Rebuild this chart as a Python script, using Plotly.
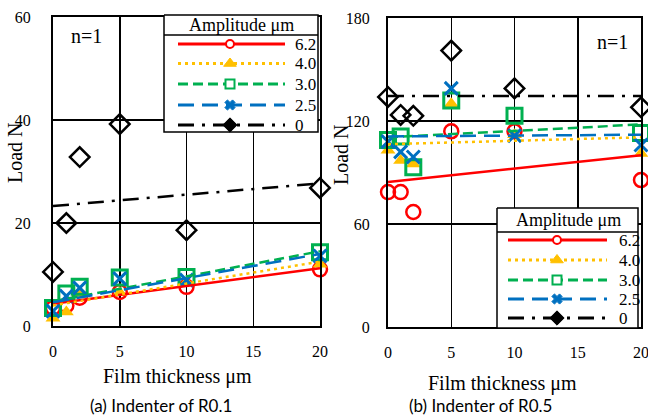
import plotly.graph_objects as go

# ---------------- data ----------------
thickness = [0, 1, 2, 5, 10, 20]
trend_x = [0, 20]
amplitudes = ["6.2", "4.0", "3.0", "2.5", "0"]

# (a) Indenter of R0.1
load_a_62 = [3.5, 4.0, 5.5, 6.6, 7.6, 11.0]
load_a_40 = [1.5, 2.7, 6.0, 6.5, 8.5, 12.0]
load_a_30 = [3.5, 6.3, 7.6, 9.4, 9.5, 14.3]
load_a_25 = [2.9, 5.8, 7.4, 9.2, 8.9, 13.6]
load_a_0 = [10.5, 20.0, 32.8, 39.2, 18.6, 26.8]
trend_a_62 = [4.3, 11.2]
trend_a_40 = [4.0, 12.5]
trend_a_30 = [4.8, 14.5]
trend_a_25 = [4.6, 14.0]
trend_a_0 = [23.3, 27.7]

# (b) Indenter of R0.5
load_b_62 = [78.6, 78.6, 67.0, 114.0, 114.0, 85.6]
load_b_40 = [103.0, 97.0, 95.0, 130.0, 112.0, 101.0]
load_b_30 = [109.0, 111.0, 93.0, 132.0, 123.0, 113.0]
load_b_25 = [108.0, 102.0, 99.0, 139.0, 111.5, 106.0]
load_b_0 = [134.0, 123.5, 123.0, 161.0, 139.0, 128.0]
trend_b_62 = [84.5, 100.0]
trend_b_40 = [106.5, 110.5]
trend_b_30 = [110.5, 118.0]
trend_b_25 = [111.0, 112.0]
trend_b_0 = [134.5, 134.5]

# ---------------- styles ----------------
W, H = 648, 420
SERIF = "Liberation Serif, Times New Roman, serif"
colors = ["#FF0000", "#FFC000", "#00B050", "#0070C0", "#000000"]
dashes = ["solid", "3px,4px", "10px,5px", "16px,8px", "16px,8px,3px,8px"]
symbols = ["circle-open", "triangle-up", "square-open", "x-thin-open", "diamond-open"]
msizes = [14, 13, 15, 13, 15]
mlw = [2.5, 0, 3, 3, 2.5]
leg_symbols = ["circle", "triangle-up", "square", "x", "diamond"]
leg_sizes = [8, 11, 9, 9, 11]
leg_fill = ["white", "#FFC000", "white", "#0070C0", "#000000"]

fig = go.Figure()

panels = [
    ("x", "y", [load_a_62, load_a_40, load_a_30, load_a_25, load_a_0],
     [trend_a_62, trend_a_40, trend_a_30, trend_a_25, trend_a_0]),
    ("x2", "y2", [load_b_62, load_b_40, load_b_30, load_b_25, load_b_0],
     [trend_b_62, trend_b_40, trend_b_30, trend_b_25, trend_b_0]),
]

for xa, ya, series, trends in panels:
    for i, vals in enumerate(series):
        fig.add_trace(go.Scatter(
            x=thickness, y=vals, mode="markers", xaxis=xa, yaxis=ya,
            cliponaxis=False, showlegend=False,
            marker=dict(symbol=symbols[i], size=msizes[i], color=colors[i],
                        line=dict(color=colors[i], width=mlw[i]))))
    for i, tr in enumerate(trends):
        fig.add_trace(go.Scatter(
            x=trend_x, y=tr, mode="lines", xaxis=xa, yaxis=ya,
            cliponaxis=False, showlegend=False,
            line=dict(color=colors[i], width=2.5, dash=dashes[i])))

# ---------------- custom legends (pixel-space overlay axis) ----------------
legends = [
    dict(box=(164, 318, 15, 132), head=35, rows=[44, 63.5, 84, 105, 125],
         lx=(178, 285), mx=230, tx=293, hx=241),
    dict(box=(497, 638, 208, 328), head=232, rows=[240, 260, 280, 299, 318],
         lx=(508, 607), mx=557, tx=617, hx=568),
]
annotations = []
for L in legends:
    x0, x1, y0, y1 = L["box"]
    fig.add_trace(go.Scatter(
        x=[x0, x1, x1, x0, x0], y=[y0, y0, y1, y1, y0], mode="lines",
        fill="toself", fillcolor="white", line=dict(color="black", width=1.5),
        xaxis="x3", yaxis="y3", showlegend=False, hoverinfo="skip"))
    fig.add_trace(go.Scatter(
        x=[x0, x1], y=[L["head"], L["head"]], mode="lines",
        line=dict(color="black", width=1.5),
        xaxis="x3", yaxis="y3", showlegend=False, hoverinfo="skip"))
    annotations.append(dict(x=L["hx"], y=(y0 + L["head"]) / 2, xref="x3", yref="y3",
                            text="Amplitude μm", showarrow=False,
                            font=dict(family=SERIF, size=18, color="black"),
                            xanchor="center", yanchor="middle"))
    for i, ry in enumerate(L["rows"]):
        fig.add_trace(go.Scatter(
            x=list(L["lx"]), y=[ry, ry], mode="lines",
            line=dict(color=colors[i], width=3, dash=dashes[i]),
            xaxis="x3", yaxis="y3", showlegend=False, hoverinfo="skip"))
        fig.add_trace(go.Scatter(
            x=[L["mx"]], y=[ry], mode="markers",
            marker=dict(symbol=leg_symbols[i], size=leg_sizes[i], color=leg_fill[i],
                        line=dict(color=colors[i], width=2 if i in (0, 2) else 1)),
            xaxis="x3", yaxis="y3", showlegend=False, hoverinfo="skip"))
        annotations.append(dict(x=L["tx"], y=ry, xref="x3", yref="y3",
                                text=amplitudes[i], showarrow=False,
                                font=dict(family=SERIF, size=17, color="black"),
                                xanchor="left", yanchor="middle"))

# ---------------- text ----------------
def txt(x, y, s, size, family=SERIF, angle=0, xanchor="center"):
    annotations.append(dict(x=x, y=y, xref="x3", yref="y3", text=s, showarrow=False,
                            textangle=angle, font=dict(family=family, size=size, color="black"),
                            xanchor=xanchor, yanchor="middle"))

txt(86, 36, "n=1", 20)
txt(612, 42, "n=1", 20)
txt(15, 153, "Load N", 20, angle=-90)
txt(341, 155, "Load N", 20, angle=-90)
txt(177, 376, "Film thickness μm", 20)
txt(502, 383, "Film thickness μm", 20)
txt(161, 405, "(a) Indenter of R0.1", 17, family="Lato, Carlito, sans-serif")
txt(480, 405, "(b) Indenter of R0.5", 17, family="Lato, Carlito, sans-serif")

axis_common = dict(showgrid=True, gridcolor="black", gridwidth=1.5,
                   showline=True, linecolor="black", linewidth=2, mirror=True,
                   zeroline=False, automargin=False, ticklabeloverflow="allow",
                   tickfont=dict(family=SERIF, size=16, color="black"),
                   fixedrange=True)

fig.update_layout(
    template="none",
    width=W, height=H, margin=dict(l=0, r=0, t=0, b=0, pad=0, autoexpand=False),
    paper_bgcolor="white", plot_bgcolor="rgba(0,0,0,0)", showlegend=False,
    xaxis=dict(domain=[53 / W, 320 / W], range=[0, 20], tickvals=[0, 5, 10, 15, 20],
               anchor="y", ticks="", ticklabelstandoff=10, **axis_common),
    yaxis=dict(domain=[1 - 326 / H, 1 - 17 / H], range=[0, 60], tickvals=[0, 20, 40, 60],
               anchor="x", ticks="outside", ticklen=17, tickcolor="rgba(0,0,0,0)",
               **axis_common),
    xaxis2=dict(domain=[388 / W, 641 / W], range=[0, 20], tickvals=[0, 5, 10, 15, 20],
                anchor="y2", ticks="", ticklabelstandoff=10, **axis_common),
    yaxis2=dict(domain=[1 - 327 / H, 1 - 18 / H], range=[0, 180], tickvals=[0, 60, 120, 180],
                anchor="x2", ticks="outside", ticklen=13, tickcolor="rgba(0,0,0,0)",
                **axis_common),
    xaxis3=dict(domain=[0, 1], range=[0, W], visible=False, anchor="y3",
                fixedrange=True, automargin=False),
    yaxis3=dict(domain=[0, 1], range=[H, 0], visible=False, anchor="x3",
                fixedrange=True, automargin=False),
    annotations=annotations,
)

fig.write_html("out.html", config={"displayModeBar": False, "staticPlot": True},
               post_script="document.body.style.margin='0';document.body.style.padding='0';")
